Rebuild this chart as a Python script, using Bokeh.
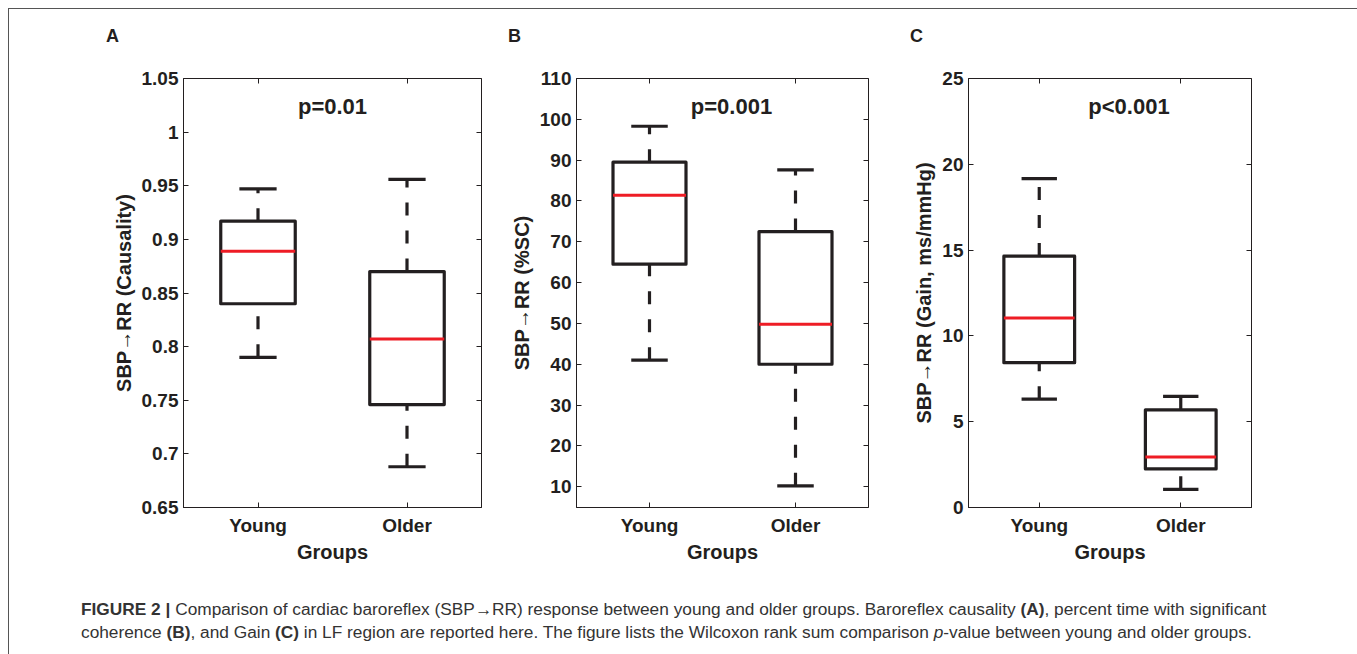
from bokeh.plotting import figure
from bokeh.models import (Range1d, FixedTicker, LinearAxis, Label, Div,
                          ColumnDataSource, CustomJSTickFormatter)
from bokeh.layouts import row, column
from bokeh.embed import file_html
from bokeh.resources import INLINE

# ---------------- data ----------------
groups = ["Young", "Older"]
positions = [1, 2]

# Panel A: SBP->RR causality
A_upper = [0.947, 0.956]
A_q3 = [0.917, 0.870]
A_median = [0.889, 0.807]
A_q1 = [0.840, 0.746]
A_lower = [0.790, 0.688]
A_ticks = [0.65, 0.7, 0.75, 0.8, 0.85, 0.9, 0.95, 1.0, 1.05]

# Panel B: %SC
B_upper = [98.3, 87.6]
B_q3 = [89.5, 72.5]
B_median = [81.4, 49.8]
B_q1 = [64.5, 40.0]
B_lower = [41.0, 10.2]
B_ticks = [10, 20, 30, 40, 50, 60, 70, 80, 90, 100, 110]

# Panel C: Gain
C_upper = [19.17, 6.48]
C_q3 = [14.65, 5.69]
C_median = [11.04, 2.94]
C_q1 = [8.44, 2.25]
C_lower = [6.31, 1.06]
C_ticks = [0, 5, 10, 15, 20, 25]

p_values = ["p=0.01", "p=0.001", "p<0.001"]
panel_letters = ["A", "B", "C"]
y_labels = ["SBP\u2192RR (Causality)", "SBP\u2192RR (%SC)", "SBP\u2192RR (Gain, ms/mmHg)"]

# ---------------- style ----------------
FONT = "Liberation Sans"
INK = "#231f20"
BOX_W = 0.5
CAP_W = 0.25
LETTER_ROW_H = 40
LW = 3.2


def make_panel(ylabel, yrange, yticks, upper, q3, med, q1, lower, ptext,
               p_xoff, min_left, frame_w, min_right):
    p = figure(title=None, frame_width=frame_w, frame_height=429,
               min_border_left=min_left, min_border_right=min_right,
               min_border_top=19, min_border_bottom=67,
               x_range=Range1d(0.5, 2.5), y_range=Range1d(*yrange),
               output_backend="svg", toolbar_location=None, tools="")
    p.grid.visible = False
    p.outline_line_color = INK
    p.outline_line_width = 1
    p.background_fill_color = "white"
    p.border_fill_color = "white"

    x0 = [x - BOX_W / 2 for x in positions]
    x1 = [x + BOX_W / 2 for x in positions]
    c0 = [x - CAP_W / 2 for x in positions]
    c1 = [x + CAP_W / 2 for x in positions]
    src = ColumnDataSource(dict(x=positions, x0=x0, x1=x1, c0=c0, c1=c1,
                                upper=upper, q3=q3, med=med, q1=q1, lower=lower))

    # whiskers (upper from box outward, lower from cap toward box)
    p.segment(x0="x", y0="q3", x1="x", y1="upper", source=src, line_color=INK,
              line_width=LW, line_dash="13 15")
    p.segment(x0="x", y0="lower", x1="x", y1="q1", source=src, line_color=INK,
              line_width=LW, line_dash="13 15")
    # caps
    p.segment(x0="c0", y0="upper", x1="c1", y1="upper", source=src, line_color=INK, line_width=LW)
    p.segment(x0="c0", y0="lower", x1="c1", y1="lower", source=src, line_color=INK, line_width=LW)
    # boxes
    p.vbar(x="x", width=BOX_W, top="q3", bottom="q1", source=src, fill_color=None,
           line_color=INK, line_width=LW, line_join="round")
    # medians
    p.segment(x0="x0", y0="med", x1="x1", y1="med", source=src, line_color="#ee1c25", line_width=3)

    # axes
    fmt = CustomJSTickFormatter(code="return String(+tick.toFixed(2));")
    empty = CustomJSTickFormatter(code="return '';")

    for ax in (p.xaxis[0], p.yaxis[0]):
        ax.major_tick_in = 5
        ax.major_tick_out = 0
        ax.minor_tick_line_color = None
        ax.axis_line_color = INK
        ax.major_tick_line_color = INK
        ax.major_label_text_font = FONT
        ax.major_label_text_font_style = "bold"
        ax.major_label_text_color = INK
        ax.axis_label_text_font = FONT
        ax.axis_label_text_font_style = "bold"
        ax.axis_label_text_color = INK

    p.xaxis.ticker = FixedTicker(ticks=positions)
    p.xaxis.major_label_overrides = {pos: g for pos, g in zip(positions, groups)}
    p.xaxis.major_label_text_font_size = "19px"
    p.xaxis.major_label_standoff = 7
    p.xaxis.axis_label = "Groups"
    p.xaxis.axis_label_text_font_size = "20px"
    p.xaxis.axis_label_standoff = 2

    p.yaxis.ticker = FixedTicker(ticks=yticks)
    p.yaxis.formatter = fmt
    p.yaxis.major_label_text_font_size = "19px"
    p.yaxis.major_label_standoff = 5
    p.yaxis.axis_label = ylabel
    p.yaxis.axis_label_text_font_size = "20px"
    p.yaxis.axis_label_standoff = 4

    right = LinearAxis(ticker=FixedTicker(ticks=yticks), formatter=empty,
                       major_tick_in=5, major_tick_out=0, axis_line_color=None,
                       major_tick_line_color=INK, minor_tick_line_color=None,
                       major_label_standoff=0)
    top = LinearAxis(ticker=FixedTicker(ticks=positions), formatter=empty,
                     major_tick_in=5, major_tick_out=0, axis_line_color=None,
                     major_tick_line_color=INK, minor_tick_line_color=None,
                     major_label_standoff=0)
    p.add_layout(right, "right")
    p.add_layout(top, "above")

    p.add_layout(Label(x=1.5, y=yrange[1], x_offset=p_xoff, y_offset=-28, text=ptext,
                       text_align="center", text_baseline="alphabetic",
                       text_font=FONT, text_font_style="bold", text_font_size="22px",
                       text_color=INK))
    return p


pA = make_panel(y_labels[0], (0.65, 1.05), A_ticks,
                A_upper, A_q3, A_median, A_q1, A_lower, p_values[0], 0, 174, 298, 10)
pB = make_panel(y_labels[1], (4.9, 110), B_ticks,
                B_upper, B_q3, B_median, B_q1, B_lower, p_values[1], 9, 85, 292, 10)
pC = make_panel(y_labels[2], (0, 25), C_ticks,
                C_upper, C_q3, C_median, C_q1, C_lower, p_values[2], 19, 90, 283, 103)


def letter_div(letter, width, pad_left):
    return Div(text=letter, width=width, height=LETTER_ROW_H,
               styles={"font-family": FONT, "font-size": "18px", "font-weight": "bold",
                       "color": INK, "line-height": "20px", "padding-left": f"{pad_left}px",
                       "padding-top": "12px", "box-sizing": "border-box"})


letters_row = row(letter_div(panel_letters[0], 482, 92),
                  letter_div(panel_letters[1], 387, 2),
                  letter_div(panel_letters[2], 476, 7), spacing=0)

caption_html = (
    "<b>FIGURE 2 |</b> Comparison of cardiac baroreflex (SBP\u2192RR) response between young and older groups. "
    "Baroreflex causality <b>(A)</b>, percent time with significant<br>"
    "coherence <b>(B)</b>, and Gain <b>(C)</b> in LF region are reported here. The figure lists the Wilcoxon "
    "rank sum comparison <i>p</i>-value between young and older groups."
)
caption = Div(text=caption_html, width=1345, height=70,
              styles={"font-family": FONT, "font-size": "17.3px", "line-height": "23px",
                      "color": "#333333", "padding-left": "67px", "padding-top": "19px",
                      "box-sizing": "border-box", "white-space": "nowrap"})

layout = column(letters_row, row(pA, pB, pC, spacing=0), caption, spacing=0,
                styles={"border-top": "1px solid #555555", "border-left": "1px solid #555555",
                        "border-right": "1px solid #555555", "margin-left": "8px",
                        "margin-top": "8px"})

open("out.html", "w").write(file_html(layout, INLINE))
